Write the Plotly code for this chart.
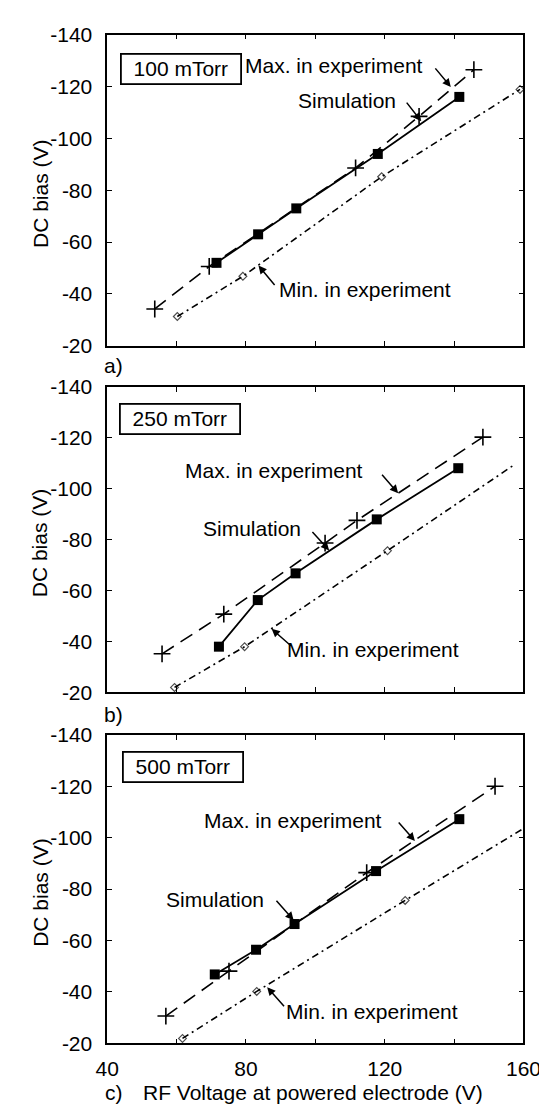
import plotly.graph_objects as go

W, H = 547, 1108
FONT = "Liberation Sans, Arial, Helvetica, sans-serif"

# ---------------- data ----------------
rf_ticks = [40, 60, 80, 100, 120, 140, 160]
rf_ticktext = ["40", "", "80", "", "120", "", "160"]
bias_ticks = [-140, -120, -100, -80, -60, -40, -20]
bias_ticktext = ["-140", "-120", "-100", "-80", "-60", "-40", "-20"]

pressures = ["100 mTorr", "250 mTorr", "500 mTorr"]
panel_letters = ["a)", "b)", "c)"]

# Panel a) 100 mTorr
a_sim_x = [71.5, 83.5, 94.5, 118, 141.5]
a_sim_y = [-52, -63, -73, -94, -116]
a_max_x = [53.7, 69.4, 111.6, 129.9, 145.7]
a_max_y = [-34.2, -50.6, -88.6, -108.5, -126.5]
a_min_x = [60.2, 79.1, 119.1, 159]
a_min_y = [-31.3, -46.8, -85.2, -118.9]
a_min_marker = [6, 6, 6, 6]

# Panel b) 250 mTorr
b_sim_x = [72.2, 83.4, 94.3, 117.7, 141.2]
b_sim_y = [-37.9, -56.2, -66.7, -87.9, -108.0]
b_max_x = [55.8, 73.6, 102.8, 112.0, 148.3]
b_max_y = [-35.1, -50.7, -78.6, -87.5, -120.2]
b_min_x = [59.4, 79.6, 120.8, 157.5]
b_min_y = [-21.9, -37.9, -75.6, -109.5]
b_min_marker = [6, 6, 6, 0]

# Panel c) 500 mTorr
c_sim_x = [71.0, 82.9, 94.0, 117.5, 141.5]
c_sim_y = [-46.8, -56.4, -66.4, -87.0, -107.2]
c_max_x = [56.9, 75.1, 114.8, 151.8]
c_max_y = [-30.6, -48.1, -86.4, -120.0]
c_min_x = [61.7, 83.1, 125.9, 159.8]
c_min_y = [-21.9, -40.2, -75.6, -103.4]
c_min_marker = [6, 6, 6, 0]

panels = [
    (a_sim_x, a_sim_y, a_max_x, a_max_y, a_min_x, a_min_y, a_min_marker),
    (b_sim_x, b_sim_y, b_max_x, b_max_y, b_min_x, b_min_y, b_min_marker),
    (c_sim_x, c_sim_y, c_max_x, c_max_y, c_min_x, c_min_y, c_min_marker),
]

# ---------------- layout geometry (pixels) ----------------
x_left, x_right = 92.3, 532.7
panel_px = [(15, 332.7), (374.5, 686.5), (730, 1045)]


def px_x(px):
    return px / W


def px_y(py):
    return 1 - py / H


fig = go.Figure()

for i, (sx, sy, mx, my, nx, ny, nm) in enumerate(panels):
    ax = "" if i == 0 else str(i + 1)
    xa, ya = "x" + ax, "y" + ax
    fig.add_trace(go.Scatter(
        x=mx, y=my, xaxis=xa, yaxis=ya, mode="lines+markers",
        line=dict(color="black", width=1.6, dash="14px,8px"),
        marker=dict(symbol="cross-thin", size=12, line=dict(color="black", width=1.6)),
        showlegend=False, cliponaxis=False))
    fig.add_trace(go.Scatter(
        x=nx, y=ny, xaxis=xa, yaxis=ya, mode="lines+markers",
        line=dict(color="black", width=1.6, dash="7px,4px,2px,4px"),
        marker=dict(symbol="diamond-open", size=nm, color="black",
                    line=dict(color="black", width=1.2)),
        showlegend=False, cliponaxis=False))
    fig.add_trace(go.Scatter(
        x=sx, y=sy, xaxis=xa, yaxis=ya, mode="lines+markers",
        line=dict(color="black", width=1.8),
        marker=dict(symbol="square", size=10, color="black"),
        showlegend=False, cliponaxis=False))

    top, bot = panel_px[i]
    axis_common = dict(showline=True, linecolor="black", linewidth=1.6, mirror="ticks",
                       ticks="inside", ticklen=5, tickwidth=1.2, tickcolor="black",
                       showgrid=False, zeroline=False, ticklabeloverflow="allow",
                       tickfont=dict(family=FONT, size=21, color="black"))
    fig.layout["xaxis" + ax] = dict(
        axis_common, domain=[px_x(x_left), px_x(x_right)], anchor=ya,
        range=[40, 160], tickmode="array", tickvals=rf_ticks, ticktext=rf_ticktext,
        showticklabels=(i == 2), ticklabelstandoff=6)
    fig.layout["yaxis" + ax] = dict(
        axis_common, domain=[px_y(bot), px_y(top)], anchor=xa,
        range=[-20, -140], tickmode="array", tickvals=bias_ticks, ticktext=bias_ticktext,
        ticklabelstandoff=9)

ann = []


def text(t, cx, cy, **kw):
    d = dict(text=t, x=px_x(cx), y=px_y(cy), xref="paper", yref="paper",
             showarrow=False, xanchor="center", yanchor="middle",
             font=dict(family=FONT, size=21, color="black"))
    d.update(kw)
    ann.append(d)


def arrow(tx, ty, hx, hy):
    ann.append(dict(text="", x=px_x(hx), y=px_y(hy), xref="paper", yref="paper",
                    ax=tx - hx, ay=ty - hy, axref="pixel", ayref="pixel",
                    showarrow=True, arrowhead=2, arrowsize=1.1, arrowwidth=1.5,
                    arrowcolor="black", standoff=0, startstandoff=0))


# pressure boxes
box_centers = [(170.6, 50.0), (169.3, 407.2), (172.0, 763.0)]
for t, (cx, cy) in zip(pressures, box_centers):
    text(t, cx, cy, bordercolor="black", borderwidth=1.8, borderpad=1,
         width=116, height=26, bgcolor="white")

# y titles
for (top, bot) in panel_px:
    text("DC bias (V)", 21, (top + bot) / 2 + 3, textangle=-90)

# labels with arrows
text("Max. in experiment", 331.9, 46.7)
text("Simulation", 346.2, 81.7)
text("Min. in experiment", 364.8, 275)
arrow(439.1, 48.3, 455.8, 68.3)
arrow(408.8, 83.3, 424.5, 103.3)
arrow(269.7, 271.7, 252.3, 250.7)

text("Max. in experiment", 268.8, 460)
text("Simulation", 245.9, 519.3)
text("Min. in experiment", 373.5, 643.3)
arrow(382.7, 463.3, 400.1, 483.3)
arrow(309, 521.7, 327.1, 541.7)
arrow(287, 640, 266.2, 621.7)

text("Max. in experiment", 288.7, 817.3)
text("Simulation", 206.3, 898.3)
text("Min. in experiment", 372.4, 1012.7)
arrow(400.3, 818.3, 417.8, 838.3)
arrow(271, 898.3, 289.5, 919.3)
arrow(279.7, 1008.3, 261.5, 987.7)

# panel letters and x title
text(panel_letters[0], 99.3, 352.7)
text(panel_letters[1], 99.3, 709)
text(panel_letters[2], 99.7, 1095.7)
text("RF Voltage at powered electrode (V)", 128.3, 1095.7, xanchor="left")

fig.update_layout(
    width=W, height=H, margin=dict(l=0, r=0, t=0, b=0),
    paper_bgcolor="white", plot_bgcolor="white",
    annotations=ann, showlegend=False,
    font=dict(family=FONT, size=21, color="black"),
)

fig.write_html("out.html")
